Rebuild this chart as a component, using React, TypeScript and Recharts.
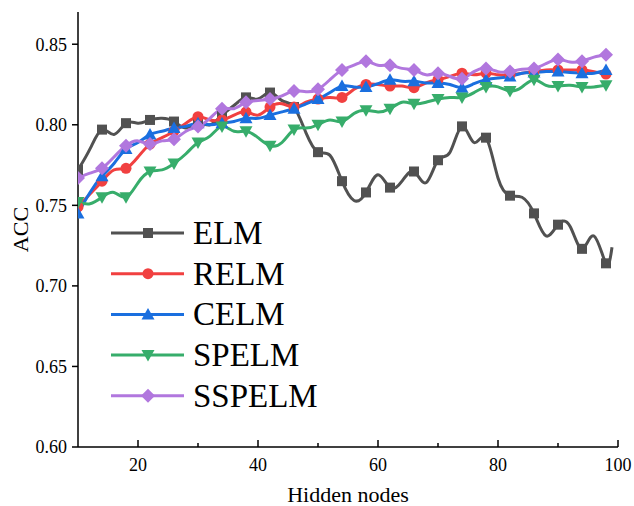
import React from 'react';
import { LineChart, Line, XAxis, YAxis, Legend } from 'recharts';

const nodes = [10, 12, 14, 16, 18, 20, 22, 24, 26, 28, 30, 32, 34, 36, 38, 40, 42, 44, 46, 48, 50, 52, 54, 56, 58, 60, 62, 64, 66, 68, 70, 72, 74, 76, 78, 80, 82, 84, 86, 88, 90, 92, 94, 96, 98, 99];

const elm = [0.772, 0.785, 0.797, 0.794, 0.801, 0.801, 0.803, 0.804, 0.802, 0.798, 0.801, 0.8, 0.806, 0.812, 0.817, 0.816, 0.82, 0.815, 0.811, 0.795, 0.783, 0.781, 0.765, 0.753, 0.758, 0.769, 0.761, 0.765, 0.771, 0.764, 0.778, 0.783, 0.799, 0.789, 0.792, 0.767, 0.756, 0.755, 0.745, 0.731, 0.738, 0.737, 0.723, 0.731, 0.714, 0.724];
const relm = [0.749, 0.757, 0.765, 0.772, 0.773, 0.78, 0.788, 0.792, 0.796, 0.801, 0.805, 0.803, 0.803, 0.806, 0.808, 0.806, 0.811, 0.813, 0.811, 0.814, 0.816, 0.817, 0.817, 0.822, 0.825, 0.825, 0.824, 0.824, 0.823, 0.826, 0.828, 0.83, 0.832, 0.831, 0.832, 0.831, 0.831, 0.832, 0.833, 0.834, 0.834, 0.834, 0.834, 0.833, 0.8315];
const celm = [0.745, 0.758, 0.768, 0.776, 0.785, 0.789, 0.794, 0.796, 0.798, 0.799, 0.801, 0.8, 0.801, 0.802, 0.804, 0.804, 0.806, 0.808, 0.81, 0.813, 0.816, 0.82, 0.824, 0.8235, 0.8235, 0.8255, 0.828, 0.827, 0.827, 0.826, 0.826, 0.825, 0.823, 0.8255, 0.828, 0.829, 0.83, 0.832, 0.8325, 0.833, 0.833, 0.8325, 0.832, 0.832, 0.834];
const spelm = [0.752, 0.751, 0.755, 0.758, 0.755, 0.764, 0.771, 0.772, 0.776, 0.782, 0.789, 0.793, 0.799, 0.796, 0.796, 0.792, 0.787, 0.789, 0.797, 0.798, 0.8, 0.803, 0.802, 0.807, 0.809, 0.808, 0.81, 0.814, 0.813, 0.814, 0.816, 0.817, 0.817, 0.82, 0.8235, 0.8235, 0.821, 0.8235, 0.828, 0.8245, 0.824, 0.8245, 0.8235, 0.8235, 0.8245];
const sspelm = [0.767, 0.77, 0.773, 0.78, 0.787, 0.79, 0.788, 0.79, 0.791, 0.796, 0.799, 0.804, 0.81, 0.81, 0.814, 0.815, 0.816, 0.818, 0.821, 0.8205, 0.822, 0.828, 0.834, 0.837, 0.8395, 0.837, 0.837, 0.835, 0.834, 0.831, 0.832, 0.83, 0.8285, 0.833, 0.835, 0.833, 0.833, 0.8345, 0.835, 0.838, 0.8405, 0.839, 0.8395, 0.842, 0.8435];

const seriesNames = ['ELM', 'RELM', 'CELM', 'SPELM', 'SSPELM'];
const seriesValues = [elm, relm, celm, spelm, sspelm];
const seriesColors = ['#515151', '#F14040', '#1A6FDF', '#37AD6B', '#B177DE'];
const seriesShapes = ['square', 'circle', 'triangle', 'triangleDown', 'diamond'];

const xTicks = [20, 30, 40, 50, 60, 70, 80, 90, 100];
const yTicks = [0.6, 0.65, 0.7, 0.75, 0.8, 0.85];

const FONT = '"Liberation Serif", "Times New Roman", serif';

const data = nodes.map((n, i) => {
  const row: any = { n };
  seriesNames.forEach((name, s) => {
    const v = seriesValues[s][i];
    row[name] = v === undefined ? null : v;
  });
  return row;
});

const Marker = ({ shape, cx, cy, color }: any) => {
  if (shape === 'square') return <rect x={cx - 5} y={cy - 5} width={10} height={10} fill={color} />;
  if (shape === 'circle') return <circle cx={cx} cy={cy} r={5.5} fill={color} />;
  if (shape === 'triangle')
    return <polygon points={`${cx},${cy - 6.5} ${cx + 6.5},${cy + 5} ${cx - 6.5},${cy + 5}`} fill={color} />;
  if (shape === 'triangleDown')
    return <polygon points={`${cx},${cy + 6.5} ${cx + 6.5},${cy - 5} ${cx - 6.5},${cy - 5}`} fill={color} />;
  return <polygon points={`${cx},${cy - 7} ${cx + 7},${cy} ${cx},${cy + 7} ${cx - 7},${cy}`} fill={color} />;
};

const makeDot = (shape: string, color: string) => (props: any) => {
  const { cx, cy, payload, index } = props;
  const k = `dot-${shape}-${index}`;
  if (cx == null || cy == null || payload == null || payload[props.dataKey] == null || (payload.n - 10) % 4 !== 0) {
    return <g key={k} />;
  }
  return (
    <g key={k}>
      <Marker shape={shape} cx={cx} cy={cy} color={color} />
    </g>
  );
};

const XTick = (props: any) => {
  const { x, y, payload } = props;
  const v = payload.value;
  const major = v % 20 === 0;
  return (
    <g>
      <line x1={x} x2={x} y1={y} y2={y - (major ? 7 : 4)} stroke="#000" strokeWidth={1.5} />
      {major && (
        <text x={x} y={y + 24} textAnchor="middle" fontFamily={FONT} fontSize={18} fill="#000">
          {v}
        </text>
      )}
    </g>
  );
};

const LegendContent = () => {
  const rowGap = 40.7;
  return (
    <svg width={240} height={210} style={{ display: 'block' }}>
      {seriesNames.map((name, i) => {
        const cy = 23 + i * rowGap;
        return (
          <g key={name}>
            <line x1={11} x2={84} y1={cy} y2={cy} stroke={seriesColors[i]} strokeWidth={3} />
            <Marker shape={seriesShapes[i]} cx={48} cy={cy} color={seriesColors[i]} />
            <text x={93} y={cy + 11} fontFamily={FONT} fontSize={33} fill="#000">
              {name}
            </text>
          </g>
        );
      })}
    </svg>
  );
};

export default function App() {
  return (
    <div style={{ position: 'absolute', left: 0, top: 0 }}>
      <LineChart width={634} height={506} data={data} margin={{ top: 12, right: 16, bottom: 0, left: 0 }}>
        <XAxis
          dataKey="n"
          type="number"
          domain={[10, 100]}
          ticks={xTicks}
          interval={0}
          height={59}
          tickSize={0}
          tickMargin={0}
          tickLine={false}
          tick={<XTick />}
          axisLine={{ stroke: '#000', strokeWidth: 1.5 }}
          allowDataOverflow
          label={{ value: 'Hidden nodes', position: 'insideBottom', offset: 4, style: { fontFamily: FONT, fontSize: 22, fill: '#000' } }}
        />
        <YAxis
          type="number"
          domain={[0.6, 0.87]}
          ticks={yTicks}
          interval={0}
          width={78}
          tickSize={6}
          tickMargin={5}
          tickFormatter={(v: number) => v.toFixed(2)}
          tick={{ fontFamily: FONT, fontSize: 18, fill: '#000' }}
          tickLine={{ stroke: '#000', strokeWidth: 1.5 }}
          axisLine={{ stroke: '#000', strokeWidth: 1.5 }}
          allowDataOverflow
          label={{ value: 'ACC', angle: -90, position: 'insideLeft', offset: 20, style: { fontFamily: FONT, fontSize: 22, fill: '#000', textAnchor: 'middle' } }}
        />
        <Legend
          layout="vertical"
          align="center"
          verticalAlign="middle"
          content={<LegendContent />}
          wrapperStyle={{ left: 100, top: 210, width: 240, height: 210 }}
        />
        {seriesNames.map((name, i) => (
          <Line
            key={name}
            type="natural"
            dataKey={name}
            stroke={seriesColors[i]}
            strokeWidth={3}
            dot={makeDot(seriesShapes[i], seriesColors[i])}
            activeDot={false}
            isAnimationActive={false}
            connectNulls={false}
          />
        ))}
      </LineChart>
    </div>
  );
}
